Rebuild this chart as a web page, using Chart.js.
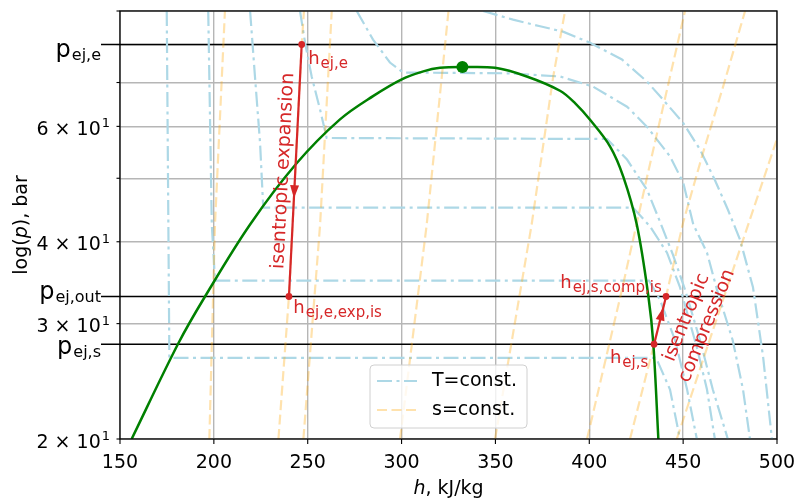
<!DOCTYPE html>
<html>
<head>
<meta charset="utf-8">
<script src="https://cdn.jsdelivr.net/npm/chart.js@4.4.0/dist/chart.umd.min.js"></script>
<style>
  html, body { margin: 0; padding: 0; background: #fff; }
</style>
</head>
<body>
<canvas id="chart" width="797" height="500"></canvas>
<script>
// axis ticks
const xTicks = [150, 200, 250, 300, 350, 400, 450, 500];
const yGrid = [20, 30, 40, 50, 60, 70, 80, 90];
const yLabelVals = [20, 30, 40, 60];
const yLabelMant = ['2', '3', '4', '6'];

// ejector pressure levels, bar
const pLevels = [80.0, 33.0, 27.9];
const pSubs = ['ej,e', 'ej,out', 'ej,s'];

// saturation dome (h in kJ/kg, p in bar)
const domeH = [156.2, 181.1, 195.3, 219.3, 244.1, 267.2, 285.0, 300.1, 311.6, 320.5, 332.4, 349.8, 366.7, 384.4, 392.4, 400.4, 411.1, 418.1, 425.3, 431.5, 434.1, 436.8];
const domeP = [20.0, 28.0, 33.0, 42.5, 52.7, 61.5, 66.8, 70.8, 72.8, 73.7, 73.9, 73.7, 71.5, 68.0, 65.1, 61.4, 55.9, 50.3, 42.5, 33.0, 28.0, 20.0];
const critH = 332.4, critP = 73.9;

// expansion and compression states
const expH = [246.8, 240.0];   // h_ej,e -> h_ej,e,exp,is
const expP = [80.0, 33.0];
const compH = [434.5, 440.9];  // h_ej,s -> h_ej,s,comp,is
const compP = [27.9, 33.0];

// isotherms -10, 0, 10, 20, 30, 40 degC  [h, p]
const isoTm10 = [[174.9, 90], [176.3, 26.6], [435.0, 26.6], [436.1, 26.4], [443.0, 23.8], [448.3, 20]];
const isoT0 = [[197.0, 90], [198.9, 42.5], [200.6, 34.9], [431.8, 34.9], [437.7, 32.6], [445.7, 28.3], [452.1, 23.8], [457.3, 20]];
const isoT10 = [[219.3, 90], [221.9, 71.5], [224.6, 56.7], [226.3, 45.1], [423.3, 45.1], [432.4, 42.2], [441.4, 38.5], [448.3, 34.1], [457.3, 27.6], [462.7, 23.8], [466.9, 20]];
const isoT20 = [[245.9, 90], [248.6, 80.5], [252.1, 71.5], [256.6, 63.6], [260.1, 57.6], [409.5, 57.4], [420.1, 53.4], [430.8, 48.0], [437.7, 42.9], [444.6, 38.2], [451.0, 33.8], [459.0, 28.3], [465.8, 23.8], [473.8, 20]];
const isoT30 = [[276.1, 90], [284.8, 81.4], [293.8, 75.1], [300.8, 72.5], [357.8, 72.3], [384.4, 71.5], [402.0, 69.0], [420.1, 64.3], [430.8, 59.9], [443.0, 54.0], [450.1, 49.2], [455.4, 42.5], [462.7, 38.5], [468.0, 33.8], [476.4, 28.3], [481.9, 23.8], [485.6, 20]];
const isoT40 = [[343.4, 90], [359.4, 87.3], [373.8, 85.3], [386.0, 83.7], [400.4, 80.5], [417.4, 75.9], [430.8, 70.2], [439.3, 65.9], [449.9, 60.8], [459.0, 55.3], [466.9, 49.7], [473.8, 44.8], [480.3, 40.3], [487.2, 34.1], [492.6, 26.7], [497.3, 20]];

// isentropes [h, p]
const isoSa = [[197.6, 20], [200.6, 42.5], [205.9, 90]];
const isoSb = [[234.4, 20], [240.0, 33.0], [246.8, 80], [248.0, 90]];
const isoSc = [[247.7, 20], [256.6, 42.5], [262.8, 90]];
const isoSd = [[299.2, 20], [313.4, 42.5], [325.0, 90]];
const isoSe = [[349.8, 20], [369.3, 42.5], [380.8, 71.5], [387.1, 90]];
const isoSf = [[398.8, 20], [417.4, 33.8], [431.3, 51.0], [451.0, 90]];
const isoSg = [[421.7, 20], [434.5, 27.9], [440.9, 33.0], [450.0, 42.8], [460.6, 54.7], [471.3, 69.0], [483.0, 90]];
const isoSh = [[446.6, 20], [474.8, 35.0], [500.0, 57.4]];

const isotherms = [isoTm10, isoT0, isoT10, isoT20, isoT30, isoT40];
const isentropes = [isoSa, isoSb, isoSc, isoSd, isoSe, isoSf, isoSg, isoSh];

const FONT = '"DejaVu Sans", sans-serif';
const RED = '#d62728';
const BLUE = '#add8e6';
const ORANGE = 'rgba(255,165,0,0.32)';
const DASH_T = [15, 4.5, 3, 4.5];
const DASH_S = [10, 4.5];

const xy = pairs => pairs.map(([h, p]) => ({ x: h, y: p }));

const datasets = [];
isotherms.forEach(line => datasets.push({
  data: xy(line), showLine: true, pointRadius: 0, borderColor: BLUE,
  borderWidth: 2.2, borderDash: DASH_T, tension: 0, order: 6
}));
isentropes.forEach(line => datasets.push({
  data: xy(line), showLine: true, pointRadius: 0, borderColor: ORANGE,
  borderWidth: 2.2, borderDash: DASH_S, tension: 0, order: 5
}));
datasets.push({
  data: domeH.map((h, i) => ({ x: h, y: domeP[i] })), showLine: true, pointRadius: 0,
  borderColor: '#008000', borderWidth: 2.5, tension: 0.35, order: 3
});
datasets.push({
  data: [{ x: critH, y: critP }], showLine: false, pointRadius: 6,
  backgroundColor: '#008000', borderColor: '#008000', borderWidth: 0, order: 1
});
[[expH, expP], [compH, compP]].forEach(([hs, ps]) => datasets.push({
  data: hs.map((h, i) => ({ x: h, y: ps[i] })), showLine: true, borderColor: RED, borderWidth: 2.2,
  pointRadius: 3.4, pointBackgroundColor: RED, pointBorderWidth: 0, order: 2
}));

// text with a subscript, baseline at y
function drawSub(ctx, x, y, main, sub, o) {
  ctx.font = o.size + 'px ' + FONT;
  const wm = ctx.measureText(main).width;
  ctx.font = o.subSize + 'px ' + FONT;
  const ws = ctx.measureText(sub).width;
  const left = o.align === 'right' ? x - (wm + 1 + ws) : x;
  ctx.fillStyle = o.color;
  ctx.textAlign = 'left';
  ctx.textBaseline = 'alphabetic';
  ctx.font = o.size + 'px ' + FONT;
  ctx.fillText(main, left, y);
  ctx.font = o.subSize + 'px ' + FONT;
  ctx.fillText(sub, left + wm + 1, y + o.drop);
}

function arrowHead(ctx, x0, y0, x1, y1, frac, len, halfW) {
  const L = Math.hypot(x1 - x0, y1 - y0);
  const ux = (x1 - x0) / L, uy = (y1 - y0) / L;
  const tx = x0 + (x1 - x0) * frac, ty = y0 + (y1 - y0) * frac;
  const bx = tx - ux * len, by = ty - uy * len;
  ctx.beginPath();
  ctx.moveTo(tx, ty);
  ctx.lineTo(bx - uy * halfW, by + ux * halfW);
  ctx.lineTo(bx + uy * halfW, by - ux * halfW);
  ctx.closePath();
  ctx.fill();
}

const diagramPlugin = {
  id: 'diagram',
  beforeDatasetsDraw(chart) {
    const { ctx, chartArea: a, scales: { y } } = chart;
    ctx.save();
    ctx.strokeStyle = '#000';
    ctx.lineWidth = 1.5;
    pLevels.forEach(p => {
      const py = y.getPixelForValue(p);
      ctx.beginPath(); ctx.moveTo(a.left - 19, py); ctx.lineTo(a.right, py); ctx.stroke();
    });
    ctx.restore();
  },
  afterDatasetsDraw(chart) {
    const { ctx, chartArea: a, scales: { x, y } } = chart;
    ctx.save();

    // frame and ticks
    ctx.strokeStyle = '#000';
    ctx.lineWidth = 1.3;
    ctx.strokeRect(a.left, a.top, a.right - a.left, a.bottom - a.top);
    ctx.lineWidth = 1.1;
    xTicks.forEach(v => {
      const px = x.getPixelForValue(v);
      ctx.beginPath(); ctx.moveTo(px, a.bottom); ctx.lineTo(px, a.bottom + 5); ctx.stroke();
    });
    yGrid.forEach(v => {
      const py = y.getPixelForValue(v);
      ctx.beginPath(); ctx.moveTo(a.left - 3.5, py); ctx.lineTo(a.left, py); ctx.stroke();
    });

    // tick labels
    ctx.fillStyle = '#000';
    ctx.font = '19px ' + FONT;
    ctx.textAlign = 'center';
    ctx.textBaseline = 'alphabetic';
    xTicks.forEach(v => ctx.fillText(String(v), x.getPixelForValue(v), a.bottom + 28.5));
    yLabelVals.forEach((v, i) => {
      const py = y.getPixelForValue(v);
      ctx.font = '13px ' + FONT;
      const ws = ctx.measureText('1').width;
      ctx.textAlign = 'right';
      ctx.fillText('1', a.left - 10, py + 1);
      ctx.font = '19px ' + FONT;
      ctx.fillText(yLabelMant[i] + ' \u00d7 10', a.left - 11 - ws, py + 8.5);
    });
    const pOff = [12, 3, 10];
    pLevels.forEach((p, i) => {
      const py = y.getPixelForValue(p);
      drawSub(ctx, a.left - 19, py + pOff[i], 'p', pSubs[i], { size: 24, subSize: 16, drop: 3, color: '#000', align: 'right' });
    });

    // axis titles
    ctx.fillStyle = '#000';
    ctx.textAlign = 'left';
    ctx.font = 'italic 19px ' + FONT;
    const wh = ctx.measureText('h').width;
    ctx.font = '19px ' + FONT;
    const wr = ctx.measureText(', kJ/kg').width;
    const xl = (a.left + a.right) / 2 - (wh + wr) / 2;
    ctx.font = 'italic 19px ' + FONT;
    ctx.fillText('h', xl, a.bottom + 55);
    ctx.font = '19px ' + FONT;
    ctx.fillText(', kJ/kg', xl + wh, a.bottom + 55);

    ctx.save();
    ctx.translate(27, (a.top + a.bottom) / 2);
    ctx.rotate(-Math.PI / 2);
    const parts = [['log(', ''], ['p', 'italic '], ['), bar', '']];
    let tw = 0;
    parts.forEach(([t, st]) => { ctx.font = st + '19px ' + FONT; tw += ctx.measureText(t).width; });
    let cx = -tw / 2;
    parts.forEach(([t, st]) => {
      ctx.font = st + '19px ' + FONT;
      ctx.fillText(t, cx, 0);
      cx += ctx.measureText(t).width;
    });
    ctx.restore();

    // red annotations
    const e0 = { x: x.getPixelForValue(expH[0]), y: y.getPixelForValue(expP[0]) };
    const e1 = { x: x.getPixelForValue(expH[1]), y: y.getPixelForValue(expP[1]) };
    const c0 = { x: x.getPixelForValue(compH[0]), y: y.getPixelForValue(compP[0]) };
    const c1 = { x: x.getPixelForValue(compH[1]), y: y.getPixelForValue(compP[1]) };
    ctx.fillStyle = RED;
    arrowHead(ctx, e0.x, e0.y, e1.x, e1.y, 0.61, 13, 4.5);
    arrowHead(ctx, c0.x, c0.y, c1.x, c1.y, 0.77, 13, 4.5);

    const lab = { size: 18, subSize: 15, drop: 4, color: RED };
    drawSub(ctx, e0.x + 6.5, e0.y + 19, 'h', 'ej,e', lab);
    drawSub(ctx, e1.x + 4.3, e1.y + 16.6, 'h', 'ej,e,exp,is', lab);
    drawSub(ctx, c1.x - 4.3, c1.y - 8, 'h', 'ej,s,comp,is', Object.assign({ align: 'right' }, lab));
    drawSub(ctx, c0.x - 5.7, c0.y + 19, 'h', 'ej,s', Object.assign({ align: 'right' }, lab));

    ctx.fillStyle = RED;
    ctx.font = '19px ' + FONT;
    ctx.textAlign = 'center';
    ctx.save();
    ctx.translate((e0.x + e1.x) / 2, (e0.y + e1.y) / 2);
    ctx.rotate(Math.atan2(e0.y - e1.y, e0.x - e1.x));
    ctx.textBaseline = 'alphabetic';
    ctx.fillText('isentropic expansion', -1, -7);
    ctx.restore();

    ctx.save();
    ctx.translate((c0.x + c1.x) / 2 + 36.7, (c0.y + c1.y) / 2 + 1.3);
    ctx.rotate(-67.6 * Math.PI / 180);
    ctx.textBaseline = 'middle';
    ctx.fillText('isentropic', 0, -11);
    ctx.fillText('compression', 0, 11);
    ctx.restore();

    // legend
    const lw = 157, lh = 63;
    const lx = (a.left + a.right) / 2 - lw / 2, ly = a.bottom - 11 - lh;
    ctx.beginPath();
    ctx.roundRect(lx, ly, lw, lh, 4);
    ctx.fillStyle = 'rgba(255,255,255,0.8)';
    ctx.fill();
    ctx.strokeStyle = '#d0d0d0';
    ctx.lineWidth = 1;
    ctx.stroke();
    const entries = [['T=const.', BLUE, DASH_T], ['s=const.', ORANGE, DASH_S]];
    entries.forEach(([t, col, dash], i) => {
      const yy = ly + 16 + i * 29;
      ctx.strokeStyle = col;
      ctx.lineWidth = 2.2;
      ctx.setLineDash(dash);
      ctx.beginPath(); ctx.moveTo(lx + 7, yy); ctx.lineTo(lx + 47, yy); ctx.stroke();
      ctx.setLineDash([]);
      ctx.fillStyle = '#000';
      ctx.font = '19px ' + FONT;
      ctx.textAlign = 'left';
      ctx.textBaseline = 'middle';
      ctx.fillText(t, lx + 62, yy);
    });

    ctx.restore();
  }
};

const chart = new Chart(document.getElementById('chart').getContext('2d'), {
  type: 'scatter',
  data: { datasets },
  options: {
    responsive: false,
    animation: false,
    events: [],
    layout: { padding: { left: 120, right: 20, top: 11, bottom: 61 } },
    plugins: { legend: { display: false }, tooltip: { enabled: false } },
    scales: {
      x: {
        type: 'linear', min: 150, max: 500,
        ticks: { display: false, stepSize: 50 },
        grid: { color: '#b6b6b6', lineWidth: 1.4, drawTicks: false },
        border: { display: false }
      },
      y: {
        type: 'logarithmic', min: 20, max: 90,
        afterBuildTicks: s => { s.ticks = yGrid.map(v => ({ value: v })); },
        ticks: { display: false },
        grid: { color: '#b6b6b6', lineWidth: 1.4, drawTicks: false },
        border: { display: false }
      }
    }
  },
  plugins: [diagramPlugin]
});
</script>
</body>
</html>
